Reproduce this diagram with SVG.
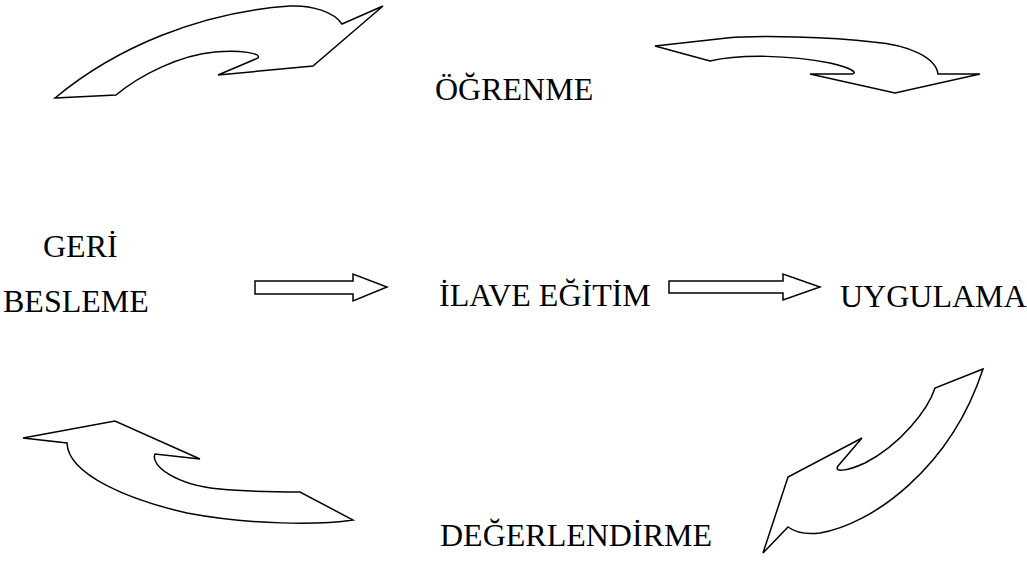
<svg xmlns="http://www.w3.org/2000/svg" width="1027" height="564" viewBox="0 0 1027 564">
<style>
.a{fill:#fff;stroke:#000;stroke-width:1.5;stroke-linejoin:miter}
.t{font-family:"Liberation Serif","Times New Roman",serif;font-size:32px;fill:#000}
</style>
<rect width="1027" height="564" fill="#fff"/>
<g id="connectors">
<path id="arrow-top-left" class="a" d="M55,98 L116,95 C140,75 180,55 215,52 C240,50 262,53 258,58 L218,75 L313,66 L383,6 L342,24 C334,12 312,5 290,6 C200,12 115,48 55,98 Z"/>
<path id="arrow-top-right" class="a" d="M655,46 L710,61 C740,54 790,55 830,63 C852,68 858,73 852,74 L810,74 L895,93 L980,74 L938,74 C936,58 910,45 873,42 C830,37 760,35 727,38 Z"/>
<path id="arrow-bottom-left" class="a" d="M23,438 L115,421 L200,459 L155,454 C150,465 175,485 220,489 C250,492 280,492 300,492 L353,520 C320,525 250,525 187,513 C130,500 68,475 67,443 Z"/>
<path id="arrow-bottom-right" class="a" d="M983,369 L935,388 C928,410 900,445 865,463 C845,472 834,472 838,466 L862,438 L788,477 L763,553 L788,527 C795,532 805,535 820,533 C870,525 950,470 983,369 Z"/>
<path id="arrow-mid-1" class="a" d="M255,281 L353,281 L353,274 L387,287 L353,301 L353,294 L255,294 Z"/>
<path id="arrow-mid-2" class="a" d="M669,281 L783,281 L783,274 L820,287 L783,300 L783,293 L669,293 Z"/>
</g>
<g id="node-ogrenme"><text class="t" x="435" y="100">ÖĞRENME</text></g>
<g id="node-geri-besleme"><text class="t" x="43" y="257">GERİ</text><text class="t" x="3" y="312">BESLEME</text></g>
<g id="node-ilave-egitim"><text class="t" x="439" y="306">İLAVE EĞİTİM</text></g>
<g id="node-uygulama"><text class="t" x="840" y="307">UYGULAMA</text></g>
<g id="node-degerlendirme"><text class="t" x="440" y="546">DEĞERLENDİRME</text></g>
</svg>
